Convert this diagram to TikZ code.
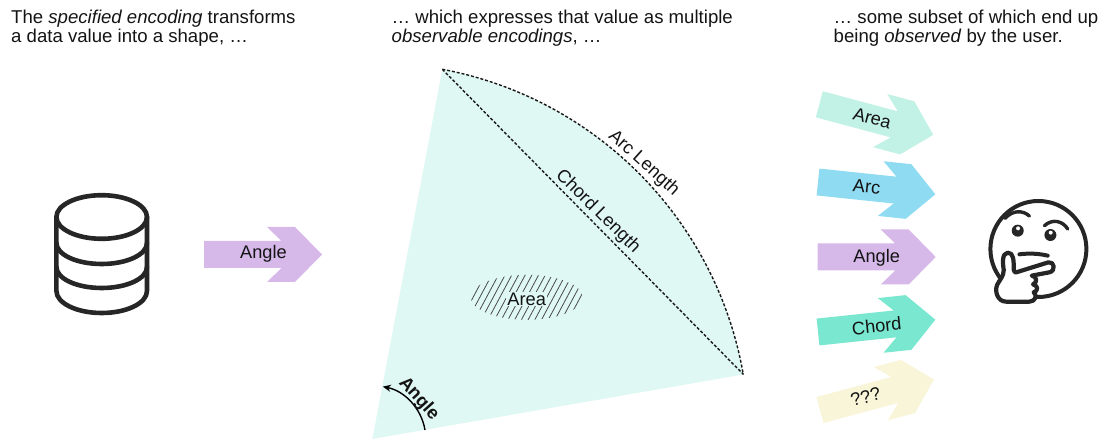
\documentclass[tikz,border=0pt]{standalone}
\usepackage{fontspec}
\setmainfont{Liberation Sans}
\usetikzlibrary{arrows.meta}
\definecolor{wedgecol}{HTML}{DFF8F3}
\definecolor{areacol}{HTML}{C2F2E5}
\definecolor{arccol}{HTML}{8FDCF2}
\definecolor{anglecol}{HTML}{D6B9E9}
\definecolor{chordcol}{HTML}{7AE8D0}
\definecolor{unkcol}{HTML}{F8F5D8}
\definecolor{iconcol}{HTML}{262626}
\newcommand{\chevronshape}[4]{\fill[#4,shift={(#1,#2)},rotate=#3] (0,13.5) -- (77.5,13.5) -- (63,27.5) -- (91,27.5) -- (118,0) -- (91,-27.5) -- (63,-27.5) -- (77.5,-13.5) -- (0,-13.5) -- cycle;}
\tikzset{
  caption/.style={anchor=base west,inner sep=0pt,font=\fontsize{18.6}{20}\selectfont,text=black!92},
  lab/.style={inner sep=0pt,font=\fontsize{18.2}{20}\selectfont,text=black!92},
  dotline/.style={draw=black!90,line width=1.4pt,dash pattern=on 3pt off 1.9pt},
  iconline/.style={draw=iconcol,line width=4.6pt,line cap=round,line join=round},
  faceline/.style={draw=iconcol,line cap=round,line join=round}
}
\begin{document}
\begin{tikzpicture}[x=1pt,y=1pt]
\useasboundingbox (0,0) rectangle (1110,439);
% captions
\node[caption] (c1a) at (11,415) {The \textit{specified encoding} transforms};
\node[caption] (c1b) at (11,396.3) {a data value into a shape, …};
\node[caption] (c2a) at (391.5,415) {… which expresses that value as multiple};
\node[caption] (c2b) at (391.5,396.3) {\textit{observable encodings}, …};
\node[caption] (c3a) at (833.5,415) {… some subset of which end up};
\node[caption] (c3b) at (833.5,396.3) {being \textit{observed} by the user.};
% database icon
\begin{scope}[iconline]
\draw (101.7,222) ellipse [x radius=45.3,y radius=21.8];
\draw (56.4,222) -- (56.4,148) arc[start angle=180,end angle=360,x radius=45.3,y radius=22] -- (147,222);
\draw (56.4,196) arc[start angle=180,end angle=360,x radius=45.3,y radius=21];
\draw (56.4,172) arc[start angle=180,end angle=360,x radius=45.3,y radius=21];
\end{scope}
% left arrow
\chevronshape{204}{184.5}{0}{anglecol}
\node[lab] (lAngle) at (263.5,185.5) {Angle};
% wedge
\coordinate (apex) at (372.3,0);
\coordinate (top) at (442.3,369.7);
\coordinate (right) at (743.3,64.7);
\fill[wedgecol] (apex) -- (top) arc[start angle=79.3,end angle=9.9,radius=376.5] -- cycle;
\draw[dotline] (top) arc[start angle=79.3,end angle=9.9,radius=376.5];
\draw[dotline] (top) -- (right);
\node[lab,rotate=-42] (lArc) at (643.8,275.7) {Arc Length};
\node[lab,rotate=-44.5] (lChord) at (597.8,227.3) {Chord Length};
% hatched area
\begin{scope}
\clip (526.7,141.7) ellipse [x radius=56,y radius=22.5];
\foreach \i in {-12,...,12}
  \draw[black!70,line width=0.8pt] ({526.7+\i*6.7-16},111.7) -- ({526.7+\i*6.7+16},171.7);
\end{scope}
\node[lab,fill=wedgecol,inner xsep=1.5pt,inner ysep=0.5pt] (lArea) at (526.7,140) {Area};
% angle indicator
\draw[line width=1.4pt,-{Stealth[length=8pt,width=7pt]}] (425,9) arc[start angle=9.7,end angle=78.7,radius=53.4];
\node[lab,rotate=-48,font=\fontsize{18.2}{20}\selectfont\bfseries] (lAngleB) at (418.8,40.2) {Angle};
% right arrows
\chevronshape{819.3}{334.7}{-15}{areacol}
\node[lab,rotate=-15] (rArea) at (872.2,320.7) {Area};
\chevronshape{818}{257}{-6}{arccol}
\node[lab,rotate=-6] (rArc) at (866.7,252) {Arc};
\chevronshape{817.7}{182}{0}{anglecol}
\node[lab] (rAngle) at (876.7,181) {Angle};
\chevronshape{818}{107}{6}{chordcol}
\node[lab,rotate=6] (rChord) at (876.7,113) {Chord};
\chevronshape{820}{29}{15}{unkcol}
\node[lab,rotate=15] (rUnk) at (865.7,42.3) {???};
% thinking face
\begin{scope}[shift={(974.4,254)},x=0.3333pt,y=-0.3333pt]
\draw[draw=iconcol,line width=4pt] (192,192) circle [radius=144];
\draw[faceline,line width=3.4pt] (92,100) .. controls (115,75) and (145,75) .. (165,93);
\draw[faceline,line width=3.4pt] (210,122) .. controls (235,100) and (265,108) .. (280,132);
\fill[iconcol] (130,137) circle [radius=18];
\fill[iconcol] (228,150) circle [radius=18];
\fill[white] (131,130) circle [radius=6];
\fill[white] (229,143) circle [radius=6];
\draw[faceline,line width=4pt] (135,208) .. controls (165,204) and (195,206) .. (220,212);
\draw[draw=iconcol,fill=white,line width=4.2pt,line join=round]
 (68,300) .. controls (75,285) and (88,275) .. (88,255)
 .. controls (85,235) and (82,205) .. (100,203)
 .. controls (118,203) and (118,225) .. (118,255)
 .. controls (118,262) and (122,264) .. (132,260)
 -- (222,232) .. controls (240,228) and (245,258) .. (225,262)
 -- (172,272) .. controls (188,275) and (190,292) .. (176,298)
 .. controls (192,302) and (192,318) .. (178,322)
 .. controls (190,332) and (182,350) .. (165,350)
 -- (95,350) .. controls (70,350) and (60,320) .. (68,300) -- cycle;
\end{scope}
\end{tikzpicture}
\end{document}
